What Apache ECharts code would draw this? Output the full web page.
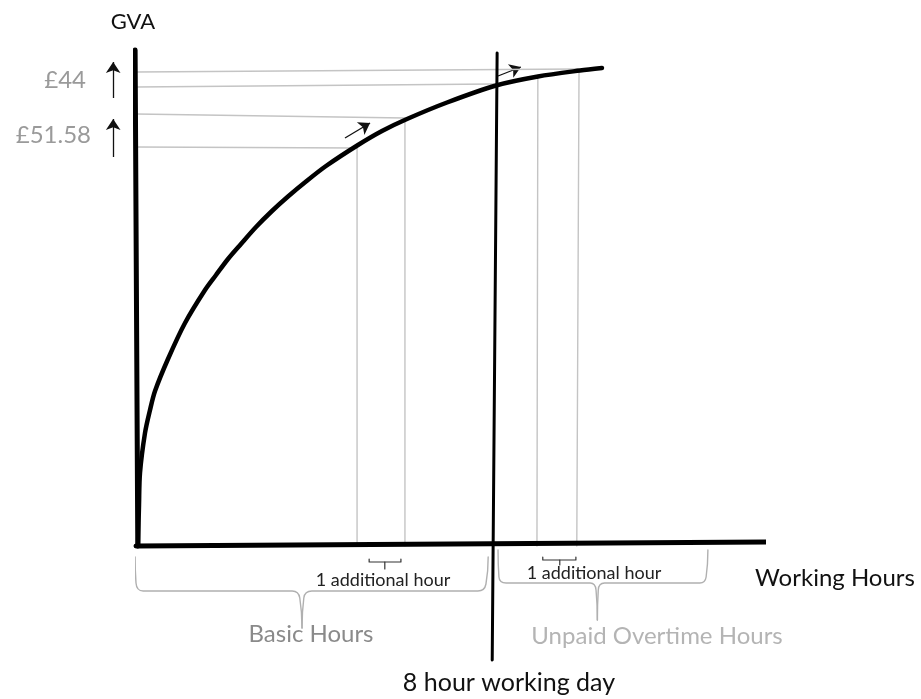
<!DOCTYPE html>
<html lang="en">
<head>
    <meta charset="UTF-8">
    <title>GVA and working hours</title>
    <style>
        html, body { margin: 0; padding: 0; background: #fff; }
        #gvaChart { width: 921px; height: 699px; }
    </style>
</head>
<body>
<div id="gvaChart"></div>
<script src="https://cdn.jsdelivr.net/npm/echarts@6/dist/echarts.min.js"></script>
<script type="text/javascript">
    // x = hours worked, y = GVA (arbitrary units, 0..100)
    var curvePoints = [[0.045, 0], [0.067, 8.2], [0.089, 14.6], [0.201, 22.6], [0.313, 27.2],
        [0.425, 31.0], [0.715, 37.4], [1.095, 44.6], [1.542, 51.2], [1.788, 54.2], [2.056, 57.4],
        [2.346, 60.4], [2.682, 63.8], [3.039, 67.0], [3.397, 69.9], [3.799, 72.9], [4.246, 76.0],
        [4.961, 80.2], [5.497, 83.0], [6.056, 85.4], [6.950, 88.7], [8.045, 92.1], [8.983, 93.9],
        [9.922, 95.1], [10.413, 95.6]];
    var yAxisLine = [[-0.02, 99.2], [0.04, 0]];
    var xAxisLine = [[0, 0], [14.32, 0.8]];
    var dayLine = [[8.07, 98.6], [7.96, -22.8]];

    // grey guide lines from the curve to the axes
    var guideLines = [
        [[0, 94.8], [9.88, 95.4]],
        [[0, 91.8], [8.0, 92.4]],
        [[0, 86.4], [6.01, 85.6]],
        [[0, 79.8], [4.94, 79.6]],
        [[4.94, 80], [4.94, 0]],
        [[6.01, 85.4], [6.01, 0]],
        [[8.98, 94], [8.96, 0]],
        [[9.90, 95.2], [9.85, 0]]
    ];
    var arrowLines = [
        [[4.67, 81.6], [5.23, 84.6]],
        [[8.09, 94], [8.60, 95.8]],
        [[-0.51, 89.6], [-0.51, 96.8]],
        [[-0.51, 77.8], [-0.51, 85.4]]
    ];
    // curly braces under the axis, each in two halves meeting at the tip
    var braceHalves = [
        [[-0.02, -2.2], [0, -7.4], [0.16, -9], [3.49, -9], [3.66, -10.4], [3.71, -16.4]],
        [[3.71, -16.4], [3.75, -10.4], [3.93, -9], [7.64, -9], [7.82, -7.6], [7.87, -2.2]],
        [[8.09, -0.8], [8.11, -6.2], [8.27, -7.4], [10.15, -7.4], [10.28, -8.8], [10.31, -14.8]],
        [[10.31, -14.8], [10.33, -8.8], [10.47, -7.4], [12.6, -7.4], [12.74, -6.2], [12.78, -0.8]]
    ];
    var hourBrackets = [
        [[5.21, -2.6], [5.21, -3.2], [5.92, -3.2], [5.92, -2.6]],
        [[5.56, -3.2], [5.56, -4.6]],
        [[9.09, -2.2], [9.09, -2.8], [9.83, -2.8], [9.83, -2.2]],
        [[9.47, -2.8], [9.47, -3.8]]
    ];
    var valueLabels = ['£44', '£51.58'];

    window.onload = function () {
        var myChart = echarts.init(document.getElementById('gvaChart'));
        var font = 'Lato, "Open Sans", sans-serif';

        function path(points, color, width, smooth) {
            return {
                type: 'line', data: points, showSymbol: false, symbol: 'none', clip: false,
                smooth: smooth || false, silent: true, z: 2,
                lineStyle: { color: color, width: width, cap: 'round', join: 'round' }
            };
        }

        var series = [];
        guideLines.forEach(function (l) { series.push(path(l, '#c4c4c4', 1.4)); });
        braceHalves.forEach(function (b) { series.push(path(b, '#b0b0b0', 1.4, 0.5)); });
        hourBrackets.forEach(function (b) { series.push(path(b, '#333', 1.2)); });
        series.push(path(yAxisLine, '#000', 5));
        series.push(path(xAxisLine, '#000', 5));
        series.push(path(dayLine, '#000', 3));
        var curve = path(curvePoints, '#000', 4.5, 0.3);
        curve.z = 3;
        series.push(curve);
        series.push({
            type: 'lines',
            coordinateSystem: 'cartesian2d',
            clip: false,
            silent: true,
            symbol: ['none', 'arrow'],
            symbolSize: 11,
            lineStyle: { color: '#111', width: 1.3, opacity: 1 },
            data: arrowLines.map(function (l) { return { coords: l }; })
        });

        function text(str, x, y, size, color, align) {
            return {
                type: 'text', x: x, y: y, silent: true,
                style: {
                    text: str, fontSize: size, fontFamily: font, fill: color,
                    align: align || 'center', verticalAlign: 'middle'
                }
            };
        }

        var option = {
            animation: false,
            backgroundColor: '#fff',
            grid: { left: 136, top: 46, width: 626.5, height: 500 },
            xAxis: { type: 'value', min: 0, max: 14, show: false },
            yAxis: { type: 'value', min: 0, max: 100, show: false },
            graphic: [
                text('GVA', 133, 22, 22, '#111'),
                text(valueLabels[0], 86, 80, 24, '#9a9a9a', 'right'),
                text(valueLabels[1], 91, 135, 24, '#9a9a9a', 'right'),
                text('1 additional hour', 383, 580, 18, '#222'),
                text('1 additional hour', 594, 573, 18, '#222'),
                text('Working Hours', 835, 578, 24, '#111'),
                text('Basic Hours', 311, 634, 24, '#8a8a8a'),
                text('Unpaid Overtime Hours', 657, 636, 24, '#b4b4b4'),
                text('8 hour working day', 509, 683, 25, '#111')
            ],
            series: series
        };
        myChart.setOption(option);
    };
</script>
</body>
</html>
